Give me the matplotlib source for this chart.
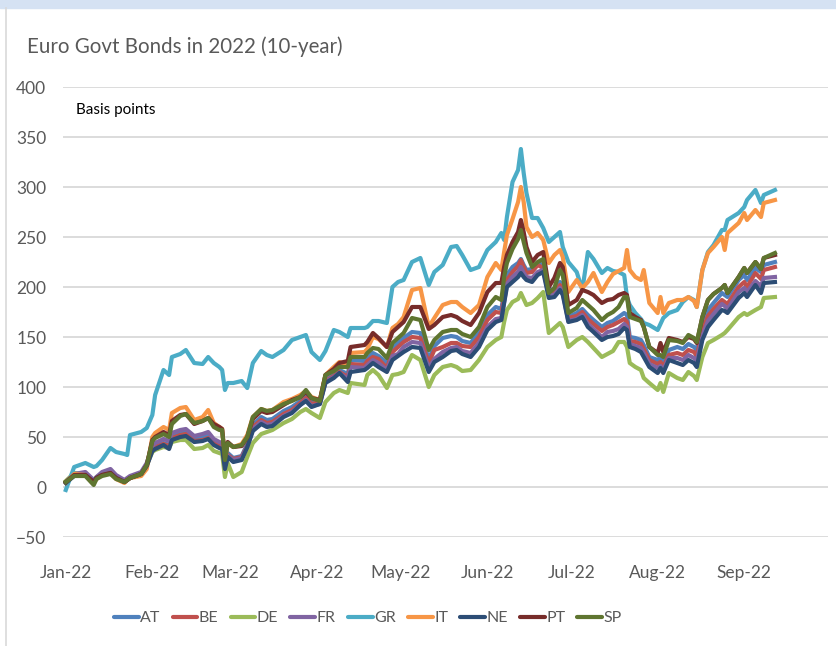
import matplotlib
matplotlib.use("Agg")
import matplotlib.pyplot as plt
import matplotlib.dates as mdates
import pandas as pd
from matplotlib.patches import Rectangle
from matplotlib.lines import Line2D

plt.rcParams['font.family'] = ['Lato', 'DejaVu Sans']

# Change in 10-year yields since start of 2022, basis points
dates = [
    "2022-01-01", "2022-01-04", "2022-01-08", "2022-01-11", "2022-01-12", "2022-01-14",
    "2022-01-17", "2022-01-19", "2022-01-22", "2022-01-23", "2022-01-24", "2022-01-28",
    "2022-01-30", "2022-02-01", "2022-02-02", "2022-02-05", "2022-02-07", "2022-02-08",
    "2022-02-11", "2022-02-13", "2022-02-16", "2022-02-19", "2022-02-21", "2022-02-23",
    "2022-02-25", "2022-02-26", "2022-02-27", "2022-02-28", "2022-03-02", "2022-03-05",
    "2022-03-07", "2022-03-09", "2022-03-12", "2022-03-14", "2022-03-16", "2022-03-20",
    "2022-03-23", "2022-03-26", "2022-03-28", "2022-03-30", "2022-04-02", "2022-04-04",
    "2022-04-07", "2022-04-09", "2022-04-12", "2022-04-13", "2022-04-18", "2022-04-19",
    "2022-04-21", "2022-04-23", "2022-04-26", "2022-04-28", "2022-04-30", "2022-05-02",
    "2022-05-05", "2022-05-08", "2022-05-11", "2022-05-13", "2022-05-16", "2022-05-19",
    "2022-05-21", "2022-05-23", "2022-05-26", "2022-05-29", "2022-06-01", "2022-06-04",
    "2022-06-06", "2022-06-07", "2022-06-08", "2022-06-10", "2022-06-12", "2022-06-13",
    "2022-06-14", "2022-06-15", "2022-06-17", "2022-06-19", "2022-06-21", "2022-06-23",
    "2022-06-25", "2022-06-27", "2022-06-28", "2022-06-30", "2022-07-03", "2022-07-05",
    "2022-07-07", "2022-07-09", "2022-07-12", "2022-07-14", "2022-07-16", "2022-07-18",
    "2022-07-20", "2022-07-21", "2022-07-22", "2022-07-24", "2022-07-26", "2022-07-27",
    "2022-07-29", "2022-08-01", "2022-08-02", "2022-08-03", "2022-08-05", "2022-08-08",
    "2022-08-10", "2022-08-12", "2022-08-14", "2022-08-15", "2022-08-17", "2022-08-19",
    "2022-08-21", "2022-08-24", "2022-08-25", "2022-08-26", "2022-08-30", "2022-09-01",
    "2022-09-02", "2022-09-05", "2022-09-07", "2022-09-08", "2022-09-12",
]

gr = [-3, 20, 24, 20, 21, 27, 39, 35, 33, 32, 52, 55, 59, 72, 92, 117, 112, 130, 133, 137,
      124, 123, 130, 124, 120, 117, 97, 104, 104, 106, 99, 124, 136, 132, 130, 137, 147, 150,
      152, 135, 127, 136, 157, 155, 150, 159, 159, 160, 166, 166, 164, 200, 205, 207, 225, 229,
      202, 215, 222, 240, 241, 232, 217, 220, 237, 245, 254, 247, 270, 305, 317, 338, 314, 294,
      269, 269, 259, 245, 250, 255, 240, 225, 215, 197, 235, 228, 214, 219, 216, 215, 212, 190,
      182, 174, 168, 164, 162, 157, 163, 169, 174, 177, 185, 190, 187, 180, 217, 235, 242, 257,
      257, 267, 274, 280, 287, 297, 284, 292, 297]
it = [4, 13, 12, 4, 8, 12, 14, 8, 4, 7, 9, 11, 18, 50, 54, 60, 57, 74, 79, 80,
      67, 70, 77, 64, 60, 58, 28, 44, 40, 43, 52, 70, 78, 76, 77, 85, 88, 92,
      96, 90, 87, 112, 120, 125, 122, 134, 135, 138, 150, 148, 140, 159, 163, 170, 197, 199,
      160, 169, 182, 185, 185, 180, 174, 182, 210, 224, 217, 235, 252, 268, 285, 300, 285, 260,
      250, 254, 247, 224, 232, 237, 230, 195, 207, 199, 205, 214, 195, 205, 213, 216, 219, 237,
      217, 210, 207, 217, 184, 174, 190, 174, 184, 187, 187, 190, 186, 180, 217, 234, 240, 250,
      237, 254, 264, 274, 267, 277, 270, 284, 287]
pt = [5, 12, 12, 5, 9, 12, 14, 9, 5, 7, 9, 13, 22, 47, 50, 55, 52, 66, 72, 73,
      63, 66, 69, 63, 60, 58, 28, 45, 40, 41, 50, 68, 76, 74, 75, 82, 87, 90,
      95, 89, 87, 112, 118, 124, 126, 140, 142, 145, 154, 149, 140, 155, 160, 165, 180, 180,
      158, 162, 170, 172, 170, 166, 162, 174, 195, 204, 204, 220, 232, 245, 255, 267, 255, 240,
      225, 232, 235, 200, 209, 224, 220, 182, 187, 197, 195, 192, 184, 187, 188, 192, 194, 192,
      174, 170, 167, 160, 140, 134, 144, 135, 149, 147, 145, 150, 148, 144, 170, 187, 193, 199,
      202, 194, 210, 219, 214, 225, 218, 229, 232]
sp = [5, 11, 11, 2, 8, 11, 13, 8, 5, 7, 9, 13, 22, 46, 49, 53, 50, 63, 71, 73,
      64, 66, 69, 60, 57, 57, 27, 44, 40, 42, 50, 70, 78, 76, 77, 83, 86, 90,
      97, 89, 86, 112, 116, 120, 120, 130, 130, 134, 139, 138, 129, 144, 149, 154, 169, 167,
      137, 147, 155, 157, 157, 153, 150, 160, 180, 190, 187, 210, 224, 238, 248, 257, 245, 234,
      220, 225, 228, 194, 199, 217, 212, 174, 179, 187, 182, 177, 167, 172, 175, 180, 190, 190,
      170, 168, 166, 160, 140, 132, 132, 130, 147, 146, 144, 152, 149, 145, 170, 187, 193, 199,
      202, 194, 210, 219, 214, 225, 218, 229, 234]
at = [5, 12, 13, 5, 9, 13, 15, 10, 6, 8, 10, 14, 22, 39, 41, 44, 42, 50, 54, 55,
      48, 50, 52, 46, 43, 42, 20, 34, 29, 31, 43, 62, 70, 67, 68, 76, 80, 86,
      91, 85, 86, 108, 113, 117, 113, 127, 126, 129, 134, 131, 124, 139, 144, 149, 155, 154,
      128, 141, 149, 151, 150, 146, 144, 155, 172, 180, 178, 195, 212, 220, 224, 228, 222, 217,
      218, 224, 222, 198, 197, 205, 200, 170, 174, 178, 172, 167, 160, 164, 166, 170, 174, 172,
      150, 149, 147, 142, 130, 127, 130, 125, 137, 140, 138, 143, 140, 137, 162, 177, 184, 194,
      192, 190, 207, 212, 207, 219, 215, 222, 225]
be = [5, 12, 13, 5, 9, 13, 15, 9, 5, 7, 9, 13, 21, 38, 40, 43, 41, 49, 52, 53,
      46, 47, 49, 44, 41, 40, 20, 32, 28, 30, 41, 60, 67, 64, 65, 73, 77, 84,
      89, 83, 85, 106, 111, 115, 110, 123, 122, 126, 130, 128, 119, 135, 140, 145, 150, 149,
      124, 137, 140, 144, 144, 141, 140, 150, 167, 175, 174, 190, 207, 215, 221, 227, 220, 214,
      215, 222, 219, 194, 195, 202, 197, 169, 171, 175, 168, 163, 156, 160, 162, 165, 168, 165,
      146, 145, 143, 138, 127, 123, 125, 120, 132, 134, 132, 137, 135, 131, 156, 171, 178, 187,
      185, 183, 200, 205, 200, 214, 208, 217, 220]
fr = [5, 13, 15, 7, 10, 15, 18, 12, 7, 9, 11, 15, 24, 41, 44, 48, 46, 54, 57, 58,
      51, 53, 55, 48, 45, 44, 21, 31, 27, 29, 40, 58, 65, 62, 63, 71, 75, 82,
      87, 81, 83, 105, 110, 114, 108, 120, 119, 122, 127, 124, 117, 131, 133, 140, 145, 144,
      119, 128, 135, 139, 140, 136, 134, 144, 160, 168, 169, 185, 203, 210, 215, 220, 214, 210,
      209, 215, 217, 192, 192, 199, 194, 166, 168, 172, 163, 158, 150, 155, 156, 158, 163, 160,
      143, 141, 139, 134, 123, 119, 121, 117, 129, 129, 127, 132, 129, 126, 151, 166, 173, 183,
      181, 178, 195, 199, 195, 206, 201, 209, 210]
ne = [4, 11, 12, 5, 9, 12, 14, 9, 5, 7, 9, 13, 21, 36, 38, 42, 38, 47, 50, 51,
      45, 46, 48, 42, 39, 38, 18, 30, 25, 27, 40, 56, 63, 60, 61, 70, 74, 82,
      86, 80, 83, 104, 109, 114, 105, 115, 117, 119, 124, 120, 115, 127, 131, 135, 140, 139,
      115, 125, 130, 136, 137, 133, 130, 140, 157, 165, 167, 184, 200, 205, 210, 214, 210, 207,
      205, 212, 215, 189, 190, 197, 192, 165, 167, 170, 160, 155, 147, 150, 151, 153, 159, 157,
      140, 138, 135, 130, 120, 114, 119, 114, 127, 124, 122, 127, 124, 120, 147, 160, 167, 177,
      176, 174, 189, 194, 190, 202, 194, 204, 205]
de = [6, 14, 13, 6, 10, 13, 15, 10, 6, 8, 10, 14, 22, 35, 37, 40, 39, 45, 47, 47,
      38, 39, 42, 36, 34, 33, 10, 24, 10, 15, 30, 44, 53, 55, 57, 64, 68, 75,
      78, 74, 69, 85, 94, 97, 94, 104, 102, 112, 117, 112, 99, 112, 113, 115, 132, 127,
      100, 112, 120, 122, 120, 116, 117, 127, 140, 147, 150, 165, 177, 185, 188, 194, 188, 182,
      184, 189, 195, 154, 159, 164, 160, 140, 147, 150, 145, 139, 130, 133, 136, 145, 145, 140,
      124, 120, 117, 109, 104, 97, 104, 95, 114, 109, 107, 115, 111, 107, 130, 144, 147, 152,
      154, 157, 170, 174, 172, 177, 180, 189, 190]

labels = ["AT", "BE", "DE", "FR", "GR", "IT", "NE", "PT", "SP"]
series = [at, be, de, fr, gr, it, ne, pt, sp]
colors = ["#4F81BD", "#C0504D", "#9BBB59", "#8064A2", "#4BACC6",
          "#F79646", "#2C4D75", "#772C2A", "#5F7530"]

x = pd.to_datetime(dates)
grey = "#595959"

fig = plt.figure(figsize=(8.37, 6.46), dpi=100)
ax = fig.add_axes([63 / 837, 109 / 646, (828 - 63) / 837, 450 / 646])

for vals, lab, col in zip(series, labels, colors):
    ax.plot(x, vals, color=col, lw=3.0, label=lab, solid_joinstyle="round")

ax.set_ylim(-50, 400)
ax.set_yticks(range(-50, 401, 50))
ax.set_xlim(pd.Timestamp("2021-12-31"), pd.Timestamp("2022-10-01"))
ax.set_xticks(pd.date_range("2022-01-01", "2022-09-01", freq="MS"))
ax.xaxis.set_major_formatter(mdates.DateFormatter("%b-%y"))
ax.grid(axis="y", color="#d9d9d9", lw=1.3)
ax.set_axisbelow(True)
for s in ax.spines.values():
    s.set_visible(False)
ax.tick_params(axis="both", length=0, labelsize=12.5, labelcolor=grey)
ax.tick_params(axis="x", pad=20)
ax.tick_params(axis="y", pad=12)

fig.text(27 / 837, 1 - 47 / 646, "Euro Govt Bonds in 2022 (10-year)",
         fontsize=14.8, color=grey, va="center", ha="left")
fig.text(76 / 837, 1 - 110 / 646, "Basis points", fontsize=11, color="black",
         va="center", ha="left")

handles = [Line2D([], [], color=c, lw=3, solid_capstyle="round") for c in colors]
fig.legend(handles, labels, loc="center", bbox_to_anchor=(368 / 837, 1 - 618 / 646),
           ncol=9, frameon=False, fontsize=11.5, labelcolor=grey,
           handlelength=1.55, handletextpad=0.1, columnspacing=0.75)

# frame of the embedded chart
fig.patches.append(Rectangle((0, 1 - 8 / 646), 1, 8 / 646, transform=fig.transFigure,
                             color="#d5e2f3", zorder=0))
fig.lines.append(Line2D([6 / 837, 6 / 837], [0, 1 - 8 / 646], transform=fig.transFigure,
                        color="#d9d9d9", lw=1.2))

fig.savefig("out.png", dpi=100)
